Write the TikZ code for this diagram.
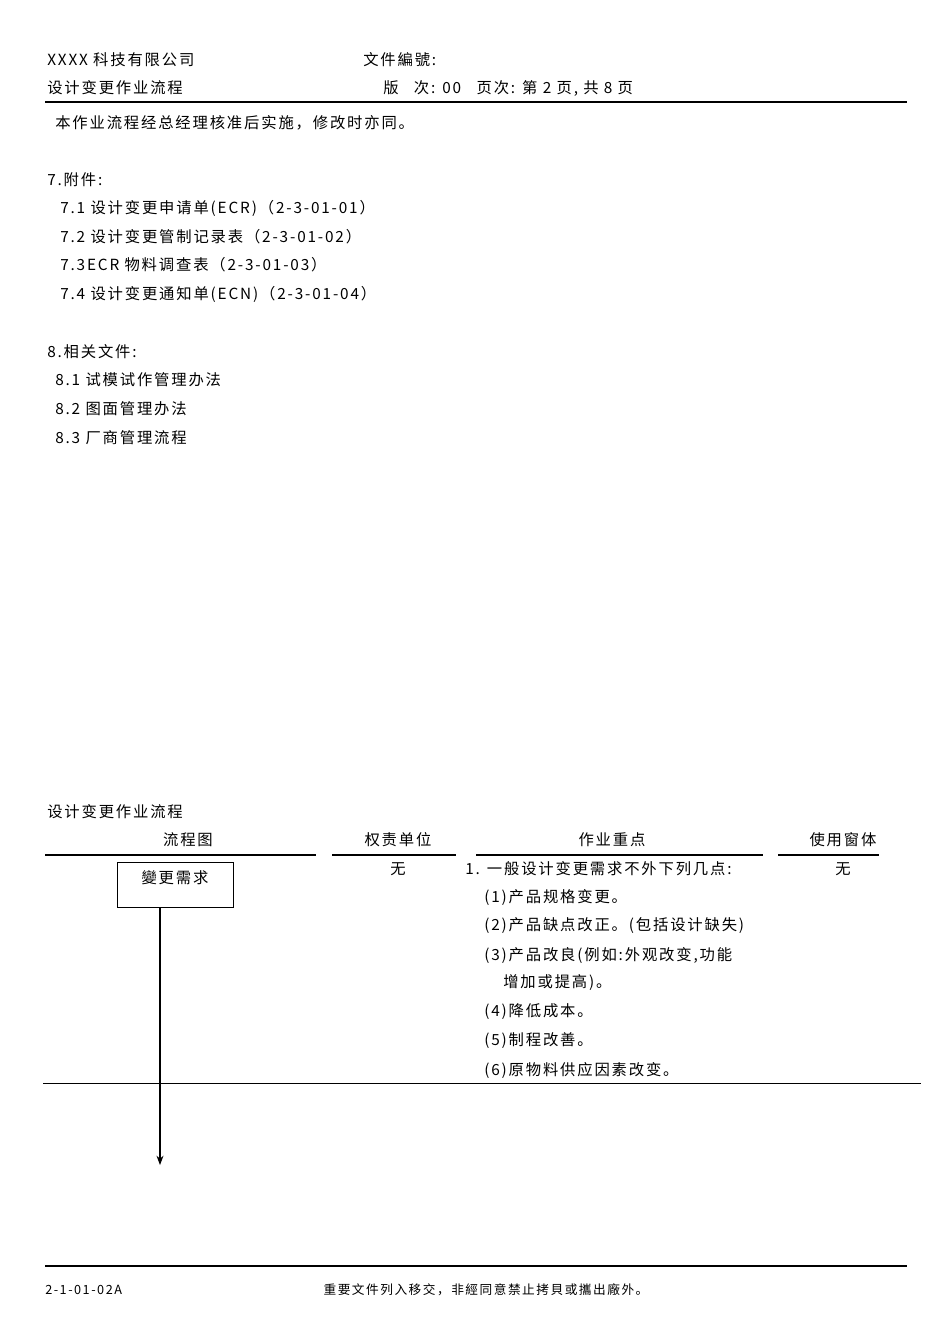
\documentclass[tikz,border=0pt]{standalone}
\usepackage{fontspec}
\setmainfont{Noto Sans CJK SC}[LetterSpace=12]
\usetikzlibrary{arrows.meta}
\begin{document}
\begin{tikzpicture}[x=0.75pt,y=-0.75pt,
  t/.style={anchor=west,inner sep=0pt,font=\fontsize{11.5}{14}\selectfont},
  c/.style={inner sep=0pt,font=\fontsize{11.5}{14}\selectfont},
  s/.style={inner sep=0pt,font=\fontsize{9.5}{11}\selectfont}]
\useasboundingbox (0,0) rectangle (950,1344);
\node[t] (h1) at (47,60) {XXXX 科技有限公司};
\node[t] (h2) at (363,60) {文件編號:};
\node[t] (h3) at (47,88) {设计变更作业流程};
\node[t] (h4) at (383,88) {版\quad 次: 00\quad 页次: 第 2 页, 共 8 页};
\draw[line width=1.5pt] (45,102) -- (907,102);
\node[t] (p0) at (55,123) {本作业流程经总经理核准后实施，修改时亦同。};
\node[t] (a0) at (47,180) {7.附件:};
\node[t] (a1) at (60,208) {7.1 设计变更申请单(ECR)（2-3-01-01）};
\node[t] (a2) at (60,237) {7.2 设计变更管制记录表（2-3-01-02）};
\node[t] (a3) at (60,265) {7.3ECR 物料调查表（2-3-01-03）};
\node[t] (a4) at (60,294) {7.4 设计变更通知单(ECN)（2-3-01-04）};
\node[t] (b0) at (47,352) {8.相关文件:};
\node[t] (b1) at (55,380) {8.1 试模试作管理办法};
\node[t] (b2) at (55,409) {8.2 图面管理办法};
\node[t] (b3) at (55,438) {8.3 厂商管理流程};
\node[t] (ft) at (47,812) {设计变更作业流程};
\node[c] (c1) at (188,840) {流程图};
\node[c] (c2) at (398,840) {权责单位};
\node[c] (c3) at (612,840) {作业重点};
\node[c] (c4) at (843,840) {使用窗体};
\draw[thick] (45,855)--(316,855) (332,855)--(456,855) (476,855)--(763,855) (778,855)--(879,855);
\node[c,draw,thick,minimum width=87pt,minimum height=34pt,anchor=north west] (box) at (117,862) {};
\node[c] (bt) at (175,878) {變更需求};
\node[c] (w1) at (398,869) {无};
\node[c] (w2) at (843,869) {无};
\node[t] (l0) at (465,869) {1. 一般设计变更需求不外下列几点:};
\node[t] (l1) at (484,897) {(1)产品规格变更。};
\node[t] (l2) at (484,926) {(2)产品缺点改正。(包括设计缺失)};
\node[t] (l3) at (484,955) {(3)产品改良(例如:外观改变,功能};
\node[t] (l3b) at (503,983) {增加或提高)。};
\node[t] (l4) at (484,1012) {(4)降低成本。};
\node[t] (l5) at (484,1041) {(5)制程改善。};
\node[t] (l6) at (484,1070) {(6)原物料供应因素改变。};
\draw (43,1083) -- (921,1083);
\coordinate (ae) at (160,1165);
\draw[thick,-{Stealth[length=7pt]}] (box.south -| ae) -- (ae);
\draw[line width=1.5pt] (45,1266) -- (907,1266);
\node[s,anchor=west] (f1) at (45,1290) {2-1-01-02A};
\node[s] (f2) at (486,1290) {重要文件列入移交，非經同意禁止拷貝或攜出廠外。};
\end{tikzpicture}
\end{document}
